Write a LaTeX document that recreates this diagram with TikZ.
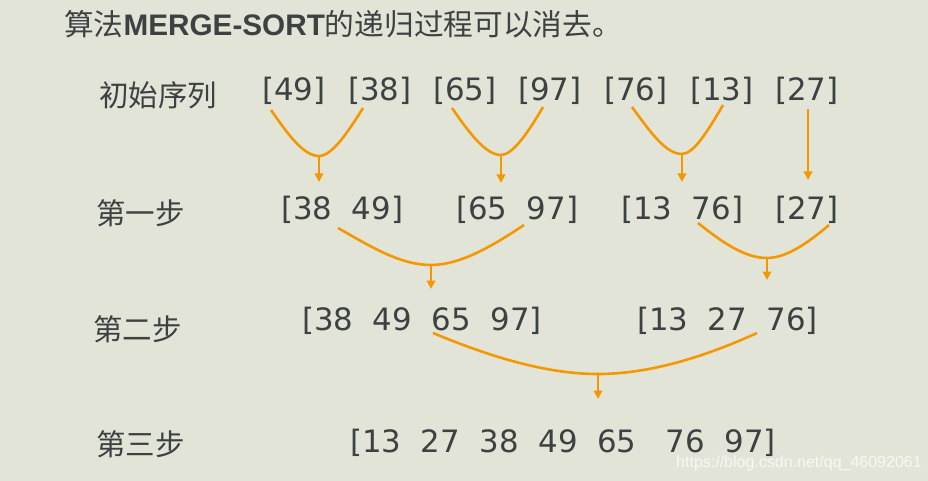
\documentclass[tikz,border=0pt]{standalone}
\usepackage{fontspec}
\setmainfont{DejaVu Sans}
\newfontfamily\cjk{Noto Sans CJK SC}
\newfontfamily\latfont{Liberation Sans}
\usetikzlibrary{arrows.meta}
\definecolor{bgc}{HTML}{E3E4D8}
\definecolor{txt}{HTML}{3C4242}
\definecolor{org}{HTML}{F39800}
\begin{document}
\begin{tikzpicture}[x=1pt,y=-1pt,
  num/.style={anchor=base west,inner sep=0pt,text=txt,font=\fontsize{30.8}{36}\selectfont},
  lab/.style={anchor=base west,inner sep=0pt,text=txt,font=\cjk\fontsize{29.5}{36}\selectfont},
  merge/.style={draw=org,line width=2.6pt},
  down/.style={draw=org,line width=2pt,-{Triangle[width=8.5pt,length=8.5pt]}}]
\fill[bgc] (0,0) rectangle (928,481);
\useasboundingbox (0,0) rectangle (928,481);

% title
\node[anchor=base west,inner sep=0pt,text=txt,font=\cjk\fontsize{29.7}{34}\selectfont] (title) at (64,36)
  {算法{\latfont\bfseries MERGE-SORT}的递归过程可以消去。};

% row labels
\node[lab] (l0) at (99,107) {初始序列};
\node[lab] (l1) at (96,224) {第一步};
\node[lab] (l2) at (93,340) {第二步};
\node[lab] (l3) at (96,455) {第三步};

% row 0
\node[num] (a1) at (262,101) {[49]};
\node[num] (a2) at (348,101) {[38]};
\node[num] (a3) at (433,101) {[65]};
\node[num] (a4) at (518,101) {[97]};
\node[num] (a5) at (604,101) {[76]};
\node[num] (a6) at (690,101) {[13]};
\node[num] (a7) at (775,101) {[27]};

% row 1
\node[num] (b1) at (281,219) {[38~~49]};
\node[num] (b2) at (456,219) {[65~~97]};
\node[num] (b3) at (621,219) {[13~~76]};
\node[num] (b4) at (775,219) {[27]};

% row 2
\node[num] (c1) at (302,330) {[38~~49~~65~~97]};
\node[num] (c2) at (637,330) {[13~~27~~76]};

% row 3
\node[num] (d1) at (350,452) {[13~~27~~38~~49~~65~~~76~~97]};

% watermark
\node[anchor=base west,inner sep=0pt,text=white,opacity=0.75,font=\latfont\fontsize{16}{18}\selectfont] (wm) at (676,467) {https://blog.csdn.net/qq\_46092061};

% connector points
\coordinate (s1a) at (271,110); \coordinate (m1) at (319,156); \coordinate (s1b) at (363,108); \coordinate (t1) at (319,182);
\coordinate (s2a) at (452,108); \coordinate (m2) at (501,155); \coordinate (s2b) at (543,107); \coordinate (t2) at (501,183);
\coordinate (s3a) at (632,107); \coordinate (m3) at (682,154); \coordinate (s3b) at (723,105); \coordinate (t3) at (682,182);
\coordinate (s4) at (808,109); \coordinate (t4) at (808,180);
\coordinate (s5a) at (338,228); \coordinate (m5) at (431,265); \coordinate (s5b) at (524,225); \coordinate (t5) at (431,289);
\coordinate (s6a) at (698,223); \coordinate (m6) at (767,258); \coordinate (s6b) at (829,225); \coordinate (t6) at (767,280);
\coordinate (s7a) at (433,333); \coordinate (m7) at (598,374); \coordinate (s7b) at (757,333); \coordinate (t7) at (598,399);

% merges
\draw[merge] (s1a) .. controls +(18,26) and +(-15,0) .. (m1) .. controls +(13,0) and +(-15,24) .. (s1b);
\draw[merge] (s2a) .. controls +(18,26) and +(-15,0) .. (m2) .. controls +(12,0) and +(-14,24) .. (s2b);
\draw[merge] (s3a) .. controls +(19,26) and +(-16,0) .. (m3) .. controls +(12,0) and +(-14,24) .. (s3b);
\draw[merge] (s5a) .. controls +(35,20) and +(-30,0) .. (m5) .. controls +(30,0) and +(-30,20) .. (s5b);
\draw[merge] (s6a) .. controls +(25,20) and +(-22,0) .. (m6) .. controls +(20,0) and +(-20,17) .. (s6b);
\draw[merge] (s7a) .. controls +(60,25) and +(-50,0) .. (m7) .. controls +(50,0) and +(-55,25) .. (s7b);

% arrows
\draw[down] (m1) -- (t1);
\draw[down] (m2) -- (t2);
\draw[down] (m3) -- (t3);
\draw[down] (s4) -- (t4);
\draw[down] (m5) -- (t5);
\draw[down] (m6) -- (t6);
\draw[down] (m7) -- (t7);
\end{tikzpicture}
\end{document}
